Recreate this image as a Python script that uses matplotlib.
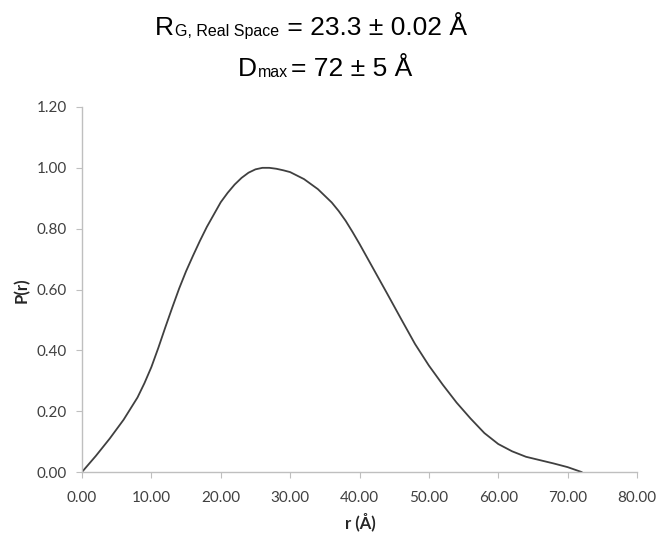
import matplotlib.pyplot as plt

# P(r) distance distribution
r = [0, 2, 4, 6, 8, 9, 10, 11, 12, 13, 14, 15, 16, 17, 18, 20, 21, 22, 23,
     24, 25, 26, 27, 28, 29, 30, 32, 34, 36, 37, 38, 39, 40, 42, 44, 46, 48,
     50, 52, 54, 56, 58, 60, 62, 64, 66, 68, 70, 72]
p = [0.0, 0.053, 0.11, 0.172, 0.245, 0.292, 0.345, 0.408, 0.475, 0.54, 0.603,
     0.66, 0.711, 0.76, 0.806, 0.887, 0.918, 0.945, 0.967, 0.984, 0.995, 1.0,
     1.0, 0.997, 0.992, 0.986, 0.963, 0.93, 0.886, 0.858, 0.826, 0.789, 0.75,
     0.668, 0.586, 0.503, 0.421, 0.35, 0.287, 0.228, 0.176, 0.128, 0.092,
     0.068, 0.05, 0.039, 0.028, 0.016, 0.0]

xticks = [0, 10, 20, 30, 40, 50, 60, 70, 80]
yticks = [0, 0.2, 0.4, 0.6, 0.8, 1.0, 1.2]

W, H = 659, 539
fig = plt.figure(figsize=(W / 100, H / 100), dpi=100)
ax = fig.add_axes([82 / W, 1 - 472 / H, 555 / W, 365 / H])

ax.plot(r, p, color="#404040", lw=1.3)

ax.set_xlim(0, 80)
ax.set_ylim(0, 1.2)
ax.set_xticks(xticks)
ax.set_yticks(yticks)
ax.set_xticklabels(["%.2f" % v for v in xticks], family="Lato", fontsize=11, color="#404040")
ax.set_yticklabels(["%.2f" % v for v in yticks], family="Lato", fontsize=11, color="#404040")
ax.tick_params(axis="x", direction="out", length=4, color="#bfbfbf", pad=10)
ax.tick_params(axis="y", direction="out", length=4, color="#bfbfbf", pad=7)

for s in ["top", "right"]:
    ax.spines[s].set_visible(False)
for s in ["left", "bottom"]:
    ax.spines[s].set_color("#bfbfbf")
    ax.spines[s].set_linewidth(1.0)

fig.text(22 / W, 1 - 290 / H, "P(r)", rotation=90, ha="center", va="center",
         family="Lato", fontweight="bold", fontsize=12, color="#262626")
fig.text(360 / W, 1 - 522 / H, "r (Å)", ha="center", va="center",
         family="Lato", fontweight="bold", fontsize=12, color="#262626")

# title lines built piece by piece so the subscripts sit on the baseline
renderer = fig.canvas.get_renderer()


def put_line(x0, baseline, pieces):
    x = x0
    for txt, size, dy, gap in pieces:
        t = fig.text((x + gap) / W, 1 - (baseline + dy) / H, txt, ha="left", va="baseline",
                     family="Liberation Sans", fontsize=size, color="black")
        x = t.get_window_extent(renderer).x1


put_line(155, 35, [("R", 19, 0, 0), ("G, Real Space", 11.5, 1, 1), (" = 23.3 ± 0.02 Å", 19, 0, 1)])
put_line(238, 76, [("D", 19, 0, 0), ("max", 11.5, 1, 1), ("= 72 ± 5 Å", 19, 0, 3)])

plt.savefig("out.png", dpi=100)
